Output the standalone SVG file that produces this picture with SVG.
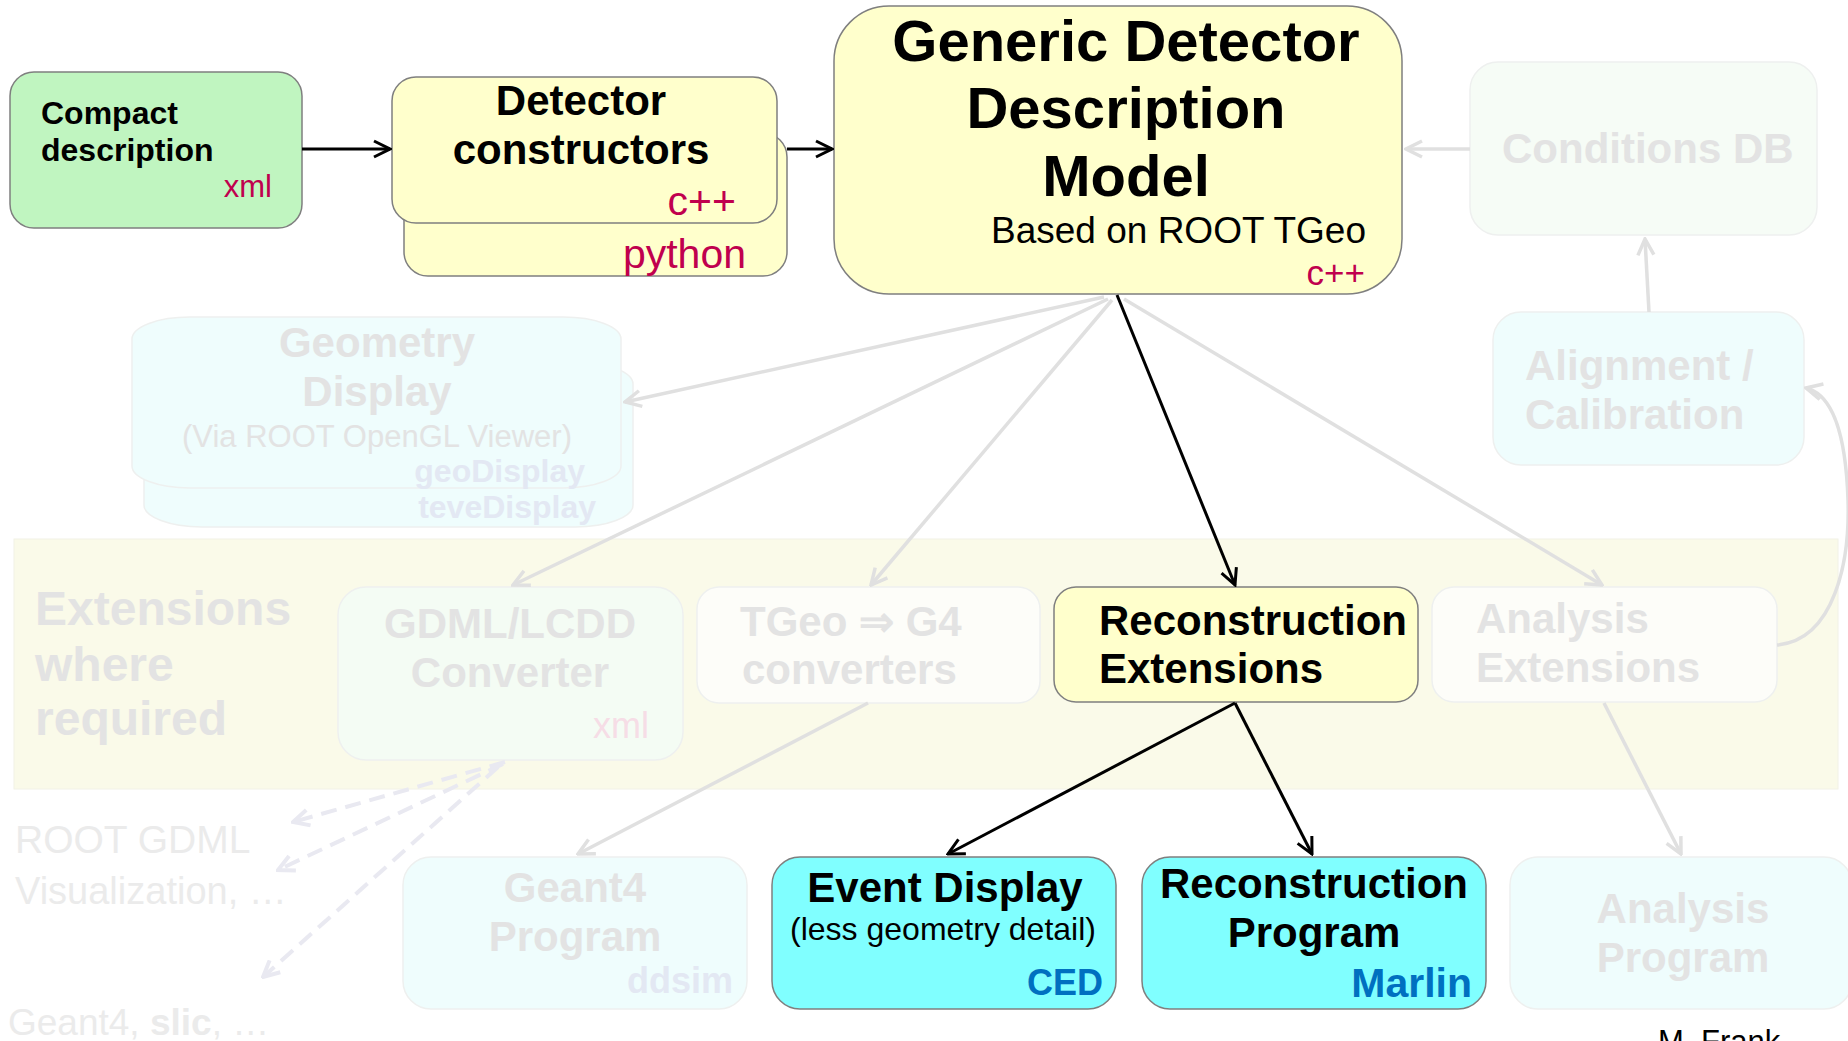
<svg xmlns="http://www.w3.org/2000/svg" width="1848" height="1041" viewBox="0 0 1848 1041">
<style>
text{font-family:"Liberation Sans",Arial,Helvetica,sans-serif}
.b{font-weight:bold}
.k{fill:#000}
.red{fill:#c0004e}
.blue{fill:#0070c0;font-weight:bold}
.fd{fill:#e3e3e3;font-weight:bold}
.fdr{fill:#e3e3e3}
.fdb{fill:#e3e8f3;font-weight:bold}
.fdo{fill:#ebebeb}
.box{stroke:#7f7f7f;stroke-width:1.5}
.fbox{stroke:#eef0ef;stroke-width:1.5}
.cb{stroke:#000;stroke-width:3;fill:none}
.cg{stroke:#e0e0e0;stroke-width:3.5;fill:none}
.cd{stroke:#e9e9f1;stroke-width:4;fill:none;stroke-dasharray:16 9}
.m{text-anchor:middle}
.e{text-anchor:end}
</style>
<defs>
<marker id="ab" viewBox="0 0 20 20" refX="18" refY="10" markerWidth="20" markerHeight="20" markerUnits="userSpaceOnUse" orient="auto"><path d="M2,2 L18,10 L2,18" fill="none" stroke="#000" stroke-width="3"/></marker>
<marker id="ag" viewBox="0 0 20 20" refX="18" refY="10" markerWidth="20" markerHeight="20" markerUnits="userSpaceOnUse" orient="auto"><path d="M2,2 L18,10 L2,18" fill="none" stroke="#e0e0e0" stroke-width="3.5"/></marker>
<marker id="ad" viewBox="0 0 20 20" refX="18" refY="10" markerWidth="20" markerHeight="20" markerUnits="userSpaceOnUse" orient="auto"><path d="M2,2 L18,10 L2,18" fill="none" stroke="#e9e9f1" stroke-width="4"/></marker>
</defs>
<rect width="1848" height="1041" fill="#fff"/>

<g id="extensions-band">
<rect x="14" y="539" width="1824" height="250" fill="#fafae9" stroke="#f2f2e6" stroke-width="1"/>
<text class="fd" font-size="48" x="35" y="625">Extensions</text>
<text class="fd" font-size="48" x="35" y="681">where</text>
<text class="fd" font-size="48" x="35" y="735">required</text>
</g>

<g id="compact">
<rect class="box" x="10" y="72" width="292" height="156" rx="24" fill="#c0f5c0"/>
<text class="b k" font-size="32" x="41" y="124">Compact</text>
<text class="b k" font-size="32" x="41" y="161">description</text>
<text class="red e" font-size="31" x="272" y="197">xml</text>
</g>

<g id="detector-constructors">
<rect class="box" x="404" y="133" width="383" height="143" rx="24" fill="#ffffcc"/>
<rect class="box" x="392" y="77" width="385" height="146" rx="24" fill="#ffffcc"/>
<text class="b k m" font-size="42" x="581" y="115">Detector</text>
<text class="b k m" font-size="42" x="581" y="164">constructors</text>
<text class="red e" font-size="41" x="736" y="215">c++</text>
<text class="red e" font-size="41" x="746" y="268">python</text>
</g>

<g id="generic-model">
<rect class="box" x="834" y="6" width="568" height="288" rx="55" fill="#ffffcc"/>
<text class="b k m" font-size="58" x="1126" y="61">Generic Detector</text>
<text class="b k m" font-size="58" x="1126" y="128">Description</text>
<text class="b k m" font-size="58" x="1126" y="196">Model</text>
<text class="k e" font-size="37" x="1366" y="243">Based on ROOT TGeo</text>
<text class="red e" font-size="35" x="1365" y="285">c++</text>
</g>

<g id="conditions-db">
<rect class="fbox" x="1470" y="62" width="347" height="173" rx="28" fill="#f6fcf6"/>
<text class="fd" font-size="42" x="1502" y="163">Conditions DB</text>
</g>

<g id="alignment">
<rect class="fbox" x="1493" y="312" width="311" height="153" rx="28" fill="#effdfd"/>
<text class="fd" font-size="42" x="1525" y="380">Alignment /</text>
<text class="fd" font-size="42" x="1525" y="429">Calibration</text>
</g>

<g id="geometry-display">
<rect class="fbox" x="144" y="362" width="489" height="165" rx="58" ry="22" fill="#effdfd"/>
<rect class="fbox" x="132" y="317" width="489" height="171" rx="58" ry="22" fill="#effdfd"/>
<text class="fd m" font-size="42" x="377" y="357">Geometry</text>
<text class="fd m" font-size="42" x="377" y="406">Display</text>
<text class="fdr m" font-size="31" x="377" y="447">(Via ROOT OpenGL Viewer)</text>
<text class="fdb e" font-size="32" x="585" y="482">geoDisplay</text>
<text class="fdb e" font-size="32" x="596" y="518">teveDisplay</text>
</g>

<g id="gdml-converter">
<rect class="fbox" x="338" y="587" width="345" height="173" rx="28" fill="#f4fcf4"/>
<text class="fd m" font-size="42" x="510" y="638">GDML/LCDD</text>
<text class="fd m" font-size="42" x="510" y="687">Converter</text>
<text class="e" font-size="36" fill="#f6dde6" x="649" y="738">xml</text>
</g>

<g id="tgeo-converters">
<rect class="fbox" x="697" y="587" width="343" height="116" rx="22" fill="#fdfdf9"/>
<text class="fd" font-size="42" x="740" y="636">TGeo ⇒ G4</text>
<text class="fd" font-size="42" x="742" y="684">converters</text>
</g>

<g id="reconstruction-extensions">
<rect class="box" x="1054" y="587" width="364" height="115" rx="22" fill="#ffffcc"/>
<text class="b k" font-size="42" x="1099" y="635">Reconstruction</text>
<text class="b k" font-size="42" x="1099" y="683">Extensions</text>
</g>

<g id="analysis-extensions">
<rect class="fbox" x="1432" y="587" width="345" height="115" rx="22" fill="#fdfdf9"/>
<text class="fd" font-size="42" x="1476" y="633">Analysis</text>
<text class="fd" font-size="42" x="1476" y="682">Extensions</text>
</g>

<g id="geant4-program">
<rect class="fbox" x="403" y="857" width="344" height="152" rx="28" fill="#effdfd"/>
<text class="fd m" font-size="42" x="575" y="902">Geant4</text>
<text class="fd m" font-size="42" x="575" y="951">Program</text>
<text class="fdb e" font-size="36" x="733" y="993">ddsim</text>
</g>

<g id="event-display">
<rect class="box" x="772" y="857" width="344" height="152" rx="28" fill="#80ffff"/>
<text class="b k m" font-size="42" x="945" y="902">Event Display</text>
<text class="k m" font-size="32" x="943" y="940">(less geometry detail)</text>
<text class="blue e" font-size="36" x="1103" y="995">CED</text>
</g>

<g id="reconstruction-program">
<rect class="box" x="1142" y="857" width="344" height="152" rx="28" fill="#80ffff"/>
<text class="b k m" font-size="42" x="1314" y="898">Reconstruction</text>
<text class="b k m" font-size="42" x="1314" y="947">Program</text>
<text class="blue e" font-size="41" x="1472" y="997">Marlin</text>
</g>

<g id="analysis-program">
<rect class="fbox" x="1510" y="857" width="342" height="152" rx="28" fill="#effdfd"/>
<text class="fd m" font-size="42" x="1683" y="923">Analysis</text>
<text class="fd m" font-size="42" x="1683" y="972">Program</text>
</g>

<g id="external-tools">
<text class="fdo" font-size="39" x="15" y="853">ROOT GDML</text>
<text class="fdo" font-size="38" x="15" y="904">Visualization, …</text>
<text class="fdo" font-size="37" x="8" y="1035">Geant4, <tspan font-weight="bold">slic</tspan>, …</text>
</g>

<g id="footer">
<text class="k" font-size="31" x="1658" y="1052">M. Frank</text>
</g>

<g id="connectors">
<line class="cb" x1="302" y1="149" x2="390" y2="149" marker-end="url(#ab)"/>
<line class="cb" x1="787" y1="149" x2="832" y2="149" marker-end="url(#ab)"/>
<line class="cg" x1="1470" y1="149" x2="1406" y2="149" marker-end="url(#ag)"/>
<line class="cg" x1="1649" y1="312" x2="1645" y2="239" marker-end="url(#ag)"/>
<path class="cg" d="M1777,645 C1835,640 1850,560 1848,500 C1846,440 1835,395 1806,388" marker-end="url(#ag)"/>
<line class="cg" x1="1104" y1="297" x2="625" y2="402" marker-end="url(#ag)"/>
<line class="cg" x1="1108" y1="299" x2="513" y2="585" marker-end="url(#ag)"/>
<line class="cg" x1="1112" y1="300" x2="871" y2="585" marker-end="url(#ag)"/>
<line class="cg" x1="1124" y1="299" x2="1602" y2="585" marker-end="url(#ag)"/>
<line class="cb" x1="1117" y1="295" x2="1235" y2="585" marker-end="url(#ab)"/>
<line class="cg" x1="868" y1="703" x2="578" y2="854" marker-end="url(#ag)"/>
<line class="cg" x1="1604" y1="703" x2="1681" y2="854" marker-end="url(#ag)"/>
<line class="cb" x1="1235" y1="703" x2="948" y2="854" marker-end="url(#ab)"/>
<line class="cb" x1="1235" y1="703" x2="1312" y2="854" marker-end="url(#ab)"/>
<path class="cd" d="M505,762 L293,822" marker-end="url(#ad)"/>
<path class="cd" d="M503,764 L278,870" marker-end="url(#ad)"/>
<path class="cd" d="M498,767 L263,977" marker-end="url(#ad)"/>
</g>
</svg>
